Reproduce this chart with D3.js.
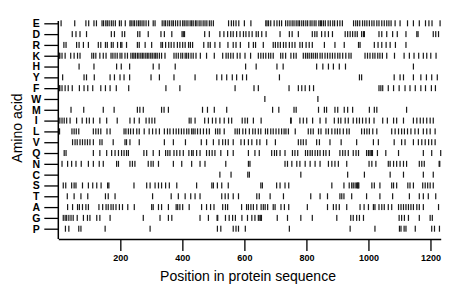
<!DOCTYPE html>
<html>
<head>
<meta charset="utf-8">
<script src="https://cdn.jsdelivr.net/npm/d3@7"></script>
<style>
  body { margin: 0; background: #fff; }
  text { font-family: "Liberation Sans", Arial, sans-serif; fill: #000; }
</style>
</head>
<body>
<div id="chart"></div>
<script>
// amino acid rows, top to bottom
const aminoAcids = ["E","D","R","K","H","Y","F","W","M","I","L","V","Q","N","C","S","T","A","G","P"];
const xTicks = [200, 400, 600, 800, 1000, 1200];
const seqLength = 1233;

// positions of each residue in the sequence
const posE = [9,53,89,98,115,123,141,146,153,158,164,171,177,184,197,203,216,231,235,241,246,253,259,264,270,276,283,291,306,312,335,341,346,353,359,366,371,378,385,393,401,406,412,418,425,430,435,442,447,454,460,467,473,479,487,493,500,549,558,565,573,582,600,621,669,673,678,685,696,705,713,720,733,740,747,754,760,767,773,778,785,791,798,804,812,818,825,831,840,845,849,855,861,870,877,885,891,900,908,916,952,959,965,972,981,988,995,1003,1011,1018,1027,1034,1043,1051,1059,1066,1073,1086,1102,1126,1145,1164,1184,1195,1205,1231];
const posD = [45,57,70,91,171,181,206,214,256,263,290,331,342,366,399,403,407,472,487,521,534,546,556,564,575,586,597,605,615,625,638,645,656,670,715,745,754,774,819,827,834,849,860,871,884,925,933,941,949,957,964,978,984,987,1034,1043,1059,1078,1093,1121,1156,1160,1209,1217,1226];
const posR = [18,25,59,67,81,97,129,137,152,158,171,177,191,201,205,220,255,261,280,301,331,336,346,356,364,373,384,392,401,409,420,426,433,469,483,490,505,521,547,564,573,587,614,629,636,661,693,700,708,716,726,734,745,754,763,779,787,799,809,819,858,892,922,968,973,1019,1031,1043,1057,1070,1087,1121];
const posK = [3,5,12,22,40,51,62,70,108,114,121,134,145,154,170,176,183,190,199,205,215,223,234,240,244,249,255,260,266,271,276,282,287,292,298,303,309,314,319,326,333,344,373,380,387,395,401,409,414,420,428,435,444,458,478,503,530,541,548,556,564,577,586,602,620,645,653,661,669,678,685,693,717,724,733,750,759,767,790,797,803,809,816,822,829,835,844,851,860,868,876,884,892,901,908,917,927,937,944,989,997,1005,1014,1021,1030,1037,1045,1059,1084,1115,1132,1147,1162,1177,1188,1201,1218];
const posH = [67,115,188,203,230,306,325,377,604,638,705,725,833,853,871,887,906,926,1145];
const posY = [14,83,91,116,167,181,199,212,230,299,326,373,441,511,527,543,561,575,594,607,713,971,978,1083,1102,1113,1145,1169,1187,1204,1222];
const posF = [3,5,12,22,32,45,68,83,95,111,137,152,167,187,227,347,392,570,631,645,744,774,785,796,810,823,1034,1040,1046,1064,1081,1099,1118,1134,1151,1169,1184,1203,1216];
const posW = [666,837];
const posM = [41,82,145,180,255,263,274,333,341,355,465,481,503,543,691,711,760,767,839,858,865,892,901,922,933,949,1003,1019,1027,1123];
const posI = [5,12,19,27,38,59,77,91,100,113,134,156,190,231,245,261,283,293,302,311,422,428,441,472,484,497,508,521,535,549,559,593,602,610,629,654,749,751,779,790,801,820,844,863,890,903,911,925,935,951,962,971,981,992,1003,1018,1046,1061,1081,1091,1113,1145,1156,1167,1177,1188,1199,1209];
const posL = [2,4,44,51,58,66,113,121,129,137,157,167,212,218,226,233,242,253,261,277,293,304,315,326,342,352,360,371,380,388,397,405,414,421,430,435,441,449,458,468,478,487,507,514,521,535,570,577,584,595,604,616,627,635,645,653,668,675,685,693,702,711,720,728,734,742,764,806,814,822,839,847,863,871,882,892,900,908,919,930,938,978,987,995,1003,1014,1027,1075,1086,1097,1107,1116,1126,1137,1150,1161,1177,1188,1199,1215];
const posV = [46,54,61,70,78,86,94,102,113,134,141,177,215,220,231,261,342,371,410,461,478,500,518,530,539,548,564,589,600,613,624,640,650,672,700,774,782,790,799,833,842,876,912,962,1016,1032,1083,1107,1118,1145,1161,1172,1183,1194,1204,1215];
const posQ = [19,25,113,134,156,172,183,194,204,212,220,226,276,285,306,326,346,353,360,373,382,392,403,421,430,435,446,457,478,487,496,505,524,546,564,613,634,648,688,697,704,715,731,755,763,772,797,804,812,819,828,836,844,855,863,874,908,917,925,935,951,960,968,994,1000,1005,1009,1011,1013,1029,1056,1097,1177,1204,1233];
const posN = [12,30,43,57,74,97,113,132,145,188,194,231,239,247,290,299,306,323,371,398,430,457,473,540,613,618,731,739,753,769,779,796,812,828,844,871,882,892,903,930,1002,1011,1024,1064,1070,1081,1091,1102,1113,1123,1164,1172,1180,1228,1230];
const posC = [521,557,611,616,782,933,987,1070,1113,1177,1209];
const posS = [16,24,43,51,57,78,97,111,124,138,159,163,244,285,296,312,323,333,346,358,382,446,495,500,513,527,548,653,658,704,715,731,743,882,921,938,946,951,957,962,965,967,969,1011,1019,1037,1075,1081,1091,1127,1134,1145,1175,1183,1191,1199,1209];
const posT = [29,51,73,95,152,161,183,304,364,387,409,427,441,457,527,538,548,564,581,640,648,683,726,814,844,868,908,914,921,946,994,1037,1078,1132,1164,1177,1193,1217];
const posA = [30,46,62,68,78,89,97,131,143,154,161,170,177,186,197,207,224,245,301,306,323,333,355,380,385,392,401,422,462,478,491,502,530,539,546,591,607,613,621,629,640,654,661,667,675,693,699,718,729,743,803,868,887,896,906,930,973,986,1000,1016,1021,1034,1043,1051,1064,1075,1097,1105,1113,1121,1129,1137,1145,1156,1164,1177,1226];
const posG = [16,22,27,34,41,48,61,81,94,102,124,134,167,274,328,355,366,457,484,512,514,539,551,562,571,592,610,624,634,645,650,653,655,706,739,782,819,898,943,951,962,971,984,1099,1107,1116,1129,1164,1199,1206];
const posP = [23,34,66,73,151,296,513,524,564,573,581,603,745,941,1021,1100,1105,1115,1121,1151,1204,1213,1229];

const positions = {
    E: posE, D: posD, R: posR, K: posK, H: posH, Y: posY, F: posF, W: posW, M: posM, I: posI,
    L: posL, V: posV, Q: posQ, N: posN, C: posC, S: posS, T: posT, A: posA, G: posG, P: posP
};

const width = 460, height = 299;
const plot = { left: 58.3, right: 440.7, top: 21, bottom: 239 };

const svg = d3.select("#chart")
    .append("svg")
    .attr("width", width)
    .attr("height", height);

const x = d3.scaleLinear()
    .domain([0, seqLength])
    .range([plot.left, plot.right]);

const y = d3.scalePoint()
    .domain(aminoAcids)
    .range([23.3, 228.7]);

// residue marks
aminoAcids.forEach(aa => {
    svg.append("g")
        .selectAll("rect")
        .data(positions[aa])
        .enter().append("rect")
        .attr("x", d => x(d) - 0.6)
        .attr("y", y(aa) - 3)
        .attr("width", 1.2)
        .attr("height", 6)
        .attr("fill", "#1a1a1a");
});

// left axis (amino acids)
const yAxis = svg.append("g")
    .attr("transform", `translate(${plot.left},0)`)
    .call(d3.axisLeft(y).tickSize(14).tickSizeOuter(0).tickPadding(0));
yAxis.select(".domain").remove();
yAxis.selectAll("line").attr("stroke", "#000").attr("stroke-width", 1.3);
yAxis.selectAll("text")
    .attr("x", -22)
    .attr("text-anchor", "middle")
    .style("font-size", "10.5px")
    .style("font-weight", "bold")
    .style("font-family", "'Liberation Sans', Arial, sans-serif");

svg.append("line")
    .attr("x1", plot.left).attr("x2", plot.left)
    .attr("y1", plot.top).attr("y2", plot.bottom)
    .attr("stroke", "#000").attr("stroke-width", 1.5);

// bottom axis (sequence position)
const xAxis = svg.append("g")
    .attr("transform", `translate(0,${plot.bottom})`)
    .call(d3.axisBottom(x).tickValues(xTicks).tickFormat(d3.format("d"))
        .tickSize(12).tickSizeOuter(0).tickPadding(4));
xAxis.select(".domain").attr("stroke", "#000").attr("stroke-width", 1.5);
xAxis.selectAll("line").attr("stroke", "#000").attr("stroke-width", 1.3);
xAxis.selectAll("text")
    .style("font-size", "9px")
    .style("font-weight", "bold")
    .style("font-family", "'Liberation Sans', Arial, sans-serif");

// axis titles
svg.append("text")
    .attr("x", 248)
    .attr("y", 280.5)
    .attr("text-anchor", "middle")
    .style("font-size", "14px")
    .text("Position in protein sequence");

svg.append("text")
    .attr("transform", "rotate(-90)")
    .attr("x", -128)
    .attr("y", 21.5)
    .attr("text-anchor", "middle")
    .style("font-size", "14px")
    .text("Amino acid");
</script>
</body>
</html>
